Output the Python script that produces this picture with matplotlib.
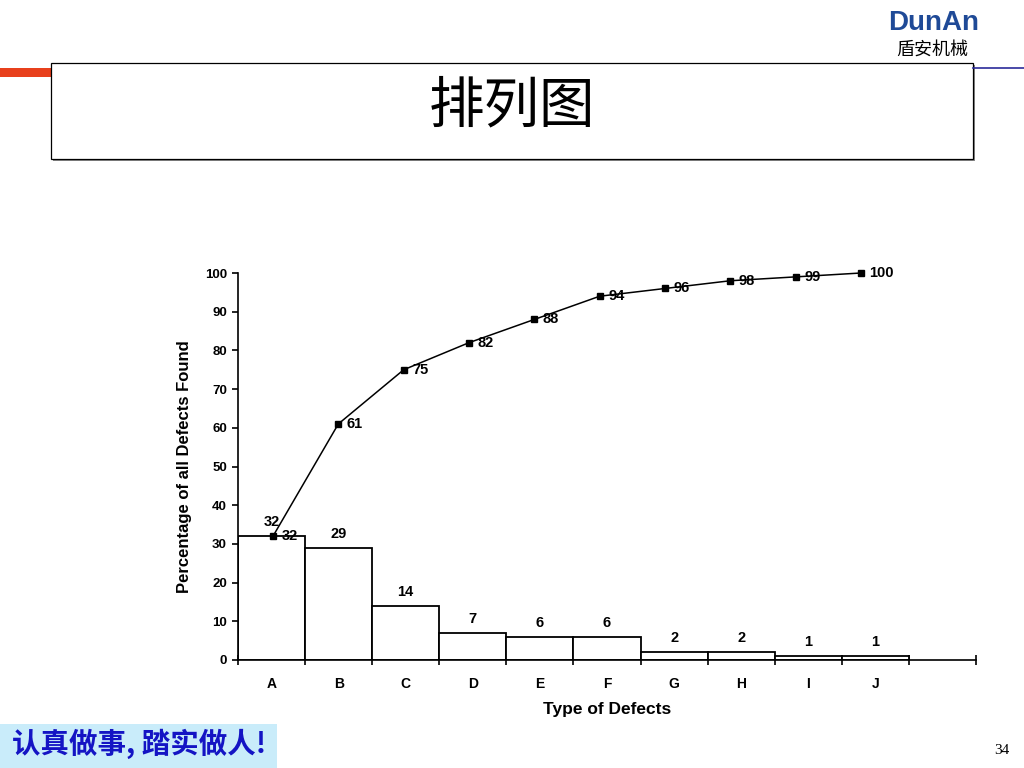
import numpy as np
import matplotlib.pyplot as plt
from matplotlib.patches import Rectangle

plt.rcParams['font.family'] = ['Liberation Sans', 'DejaVu Sans']
cjk = ['Noto Sans CJK SC', 'DejaVu Sans']

# data
categories = ['A', 'B', 'C', 'D', 'E', 'F', 'G', 'H', 'I', 'J']
counts = [32, 29, 14, 7, 6, 6, 2, 2, 1, 1]
cumulative = [32, 61, 75, 82, 88, 94, 96, 98, 99, 100]
yticks = [0, 10, 20, 30, 40, 50, 60, 70, 80, 90, 100]

W, H = 1024, 768
fig = plt.figure(figsize=(W / 100, H / 100), dpi=100)
fig.patch.set_facecolor('white')

def fx(px):
    return px / W

def fy(py):
    return 1 - py / H

# slide decoration
fig.patches.append(Rectangle((0, fy(77)), fx(52), 9 / H, transform=fig.transFigure,
                             facecolor='#e8401c', edgecolor='none'))
fig.lines.append(plt.Line2D([fx(973), 1], [fy(68), fy(68)], transform=fig.transFigure,
                            color='#2b2b9a', lw=1.2))
fig.patches.append(Rectangle((fx(53), fy(161)), fx(922), 96 / H, transform=fig.transFigure,
                             facecolor='#8a8a8a', edgecolor='none'))
fig.patches.append(Rectangle((fx(51), fy(159)), fx(922), 96 / H, transform=fig.transFigure,
                             facecolor='white', edgecolor='black', lw=0.9))
fig.text(fx(512), fy(107), '排列图', family=cjk, fontsize=40, ha='center', va='center')

fig.text(fx(934), fy(23), 'DunAn', fontsize=20, fontweight='bold', color='#1f4a97',
         ha='center', va='center')
fig.text(fx(932), fy(50), '盾安机械', family=cjk, fontsize=13, ha='center', va='center')

fig.patches.append(Rectangle((0, 0), fx(277), 44 / H, transform=fig.transFigure,
                             facecolor='#c9ecfa', edgecolor='none'))
fig.text(fx(12), fy(744), '认真做事, 踏实做人!', family=cjk, fontsize=20.5, fontweight='bold',
         color='#1414c4', ha='left', va='center')
fig.text(fx(1002), fy(751), '34', family=['Liberation Serif'], fontsize=11,
         ha='center', va='center')

# pareto chart
ax = fig.add_axes([fx(238), fy(660), fx(976 - 238), (660 - 273) / H])
x = np.arange(len(categories)) + 0.5
ax.bar(x, counts, width=1.0, facecolor='white', edgecolor='black', lw=1.3, zorder=2)
for xi, c in zip(x, counts):
    ax.annotate(str(c), (xi, c), xytext=(0, 5), textcoords='offset points',
                ha='center', va='bottom', fontsize=10.5, fontweight='bold')

ax.set_xlim(0, 11)
ax.set_ylim(0, 100)
ax.spines['top'].set_visible(False)
ax.spines['right'].set_visible(False)
ax.spines['left'].set_linewidth(1.2)
ax.spines['bottom'].set_linewidth(1.2)
ax.set_yticks(yticks)
ax.set_yticklabels([str(v) for v in yticks], fontsize=9.5, fontweight='bold')
ax.tick_params(axis='y', direction='out', length=4, width=1.2, pad=4)
ax.set_xticks(np.arange(12))
ax.set_xticklabels([])
ax.tick_params(axis='x', which='major', direction='inout', length=7, width=1.2)
ax.set_xticks(x, minor=True)
ax.set_xticklabels(categories, minor=True, fontsize=10, fontweight='bold')
ax.tick_params(axis='x', which='minor', length=0, pad=12)
ax.set_ylabel('Percentage of all Defects Found', fontsize=12, fontweight='bold')
ax.yaxis.set_label_coords(-0.062, 0.5)
ax.set_xlabel('Type of Defects', fontsize=12.5, fontweight='bold')
ax.xaxis.set_label_coords(0.5, -0.108)

# cumulative line sits on its own slightly narrower category scale
ax2 = fig.add_axes(ax.get_position())
ax2.set_xlim(-0.536, 10.76)
ax2.set_ylim(0, 100)
ax2.axis('off')
idx = np.arange(len(categories))
ax2.plot(idx, cumulative, color='black', lw=1.1, marker='s', ms=5, zorder=3, clip_on=False)
for xi, c in zip(idx, cumulative):
    ax2.annotate(str(c), (xi, c), xytext=(6, 0), textcoords='offset points',
                 ha='left', va='center', fontsize=10.5, fontweight='bold')

fig.savefig('out.png', dpi=100)
